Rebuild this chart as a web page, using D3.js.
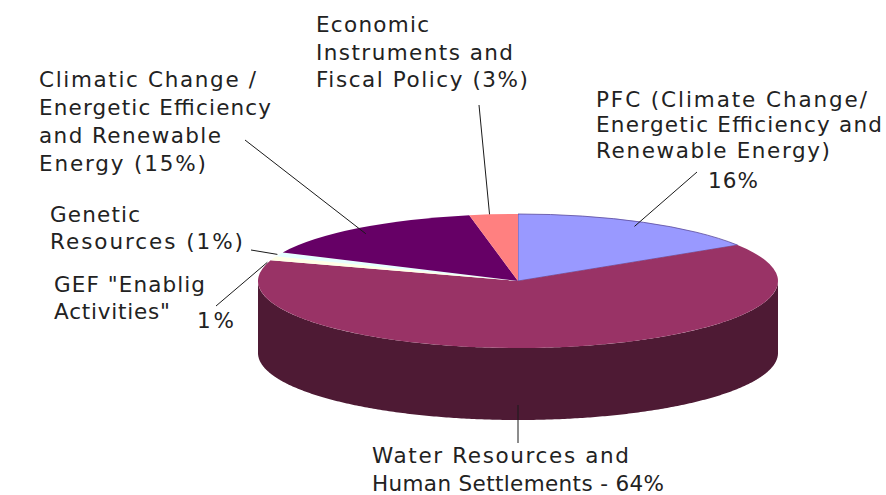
<!DOCTYPE html>
<html>
<head>
<meta charset="utf-8">
<script src="https://cdn.jsdelivr.net/npm/d3@7"></script>
<style>
  html, body { margin: 0; background: #fff; }
  text { font-family: "DejaVu Sans", sans-serif; font-size: 21.5px; fill: #222; }
</style>
</head>
<body>
<svg id="chart" width="886" height="495"></svg>
<script>
// Share of funding per thematic area, clockwise from twelve o'clock.
const categories = [
  "PFC (Climate Change/ Energetic Efficiency and Renewable Energy)",
  "Water Resources and Human Settlements",
  "GEF \"Enablig Activities\"",
  "Genetic Resources",
  "Climatic Change / Energetic Efficiency and Renewable Energy",
  "Economic Instruments and Fiscal Policy"
];
const shares = [16, 64, 1, 1, 15, 3];
const sliceColors = ["#9999ff", "#993366", "#ffffe6", "#e6ffff", "#660066", "#ff8080"];
const sideColors = ["#4c4c80", "#4e1a34", "#80805c", "#668080", "#330033", "#804040"];

// Label lines, each fitted to its own width on the page.
const labelText = [
  "PFC (Climate Change/", "Energetic Efficiency and", "Renewable Energy)", "16%",
  "Water Resources and", "Human Settlements - 64%",
  "GEF \"Enablig", "Activities\"", "1%",
  "Genetic", "Resources (1%)",
  "Climatic Change /", "Energetic Efficiency", "and Renewable", "Energy (15%)",
  "Economic", "Instruments and", "Fiscal Policy (3%)"
];
const labelX = [596, 596, 596, 708, 372, 372, 54, 54, 197, 50, 50, 39, 39, 39, 39, 316, 316, 316];
const labelY = [107, 132, 158, 188, 463, 491, 292, 319, 328, 222, 249, 87, 115, 143, 171, 32, 60, 87];
const labelWidth = [271, 286, 234, 50, 257, 292, 151, 116, 37, 90, 193, 217, 232, 182, 167, 113, 197, 212];

// Leaders run from a point beside the label to a point on the slice.
const leaderFrom = [[697, 172], [518, 443], [216, 306], [251, 250], [245, 140], [479, 105]];
const leaderReach = [0.93, 1, 1, 1, 0.93, 1];
const leaderShift = [[0, 0], [0, 0], [-6, 4], [-2, 0], [-4, 2], [-4, 0]];

// Projection of the tilted disc.
const cx = 518, cy = 281, rx = 260, ry = 67, depth = 72;

const svg = d3.select("#chart");
const pie = d3.pie().sort(null).value(d => d)(shares);
const arc = d3.arc().innerRadius(0).outerRadius(rx);
const squash = `translate(${cx},${cy}) scale(1,${ry / rx})`;

// Point on the flattened disc for a pie angle and a fraction of the radius.
const onDisc = (angle, r) => [
  cx + rx * r * Math.sin(angle),
  cy - ry * r * Math.cos(angle)
];

// Outer wall: only the front half of the rim is visible, swept through the slices there.
const front = svg.append("g");
pie.forEach((s, i) => {
  const a0 = Math.max(s.startAngle, Math.PI / 2);
  const a1 = Math.min(s.endAngle, 3 * Math.PI / 2);
  if (a1 <= a0) return;
  const [x0, y0] = onDisc(a0, 1);
  const [x1, y1] = onDisc(a1, 1);
  const p = d3.path();
  p.moveTo(x0, y0);
  p.lineTo(x0, y0 + depth);
  const steps = d3.range(a0, a1, 0.01).concat(a1);
  steps.forEach(a => { const [x, y] = onDisc(a, 1); p.lineTo(x, y + depth); });
  p.lineTo(x1, y1);
  steps.slice().reverse().forEach(a => { const [x, y] = onDisc(a, 1); p.lineTo(x, y); });
  p.closePath();
  front.append("path").attr("d", p.toString()).attr("fill", sideColors[i]);
});

// Top face.
svg.append("g").attr("transform", squash)
  .selectAll("path").data(pie).join("path")
  .attr("d", arc)
  .attr("fill", (d, i) => sliceColors[i])
  .attr("stroke", (d, i) => i === 0 ? "#5a4a9a" : "none")
  .attr("stroke-width", (d, i) => i === 0 ? 0.8 : 0)
  .attr("vector-effect", "non-scaling-stroke");

// Leader lines, from each label into its slice.
svg.append("g").selectAll("line").data(pie).join("line")
  .each(function (d, i) {
    const wall = i === 1;
    const mid = wall ? Math.PI : (d.startAngle + d.endAngle) / 2;
    const [x, y] = onDisc(mid, leaderReach[i]);
    d3.select(this)
      .attr("x1", leaderFrom[i][0]).attr("y1", leaderFrom[i][1])
      .attr("x2", x + leaderShift[i][0])
      .attr("y2", (wall ? y + depth - 15 : y) + leaderShift[i][1]);
  })
  .attr("stroke", "#1a1a1a").attr("stroke-width", 1);

// Label text.
svg.append("g").selectAll("text").data(labelText).join("text")
  .attr("x", (d, i) => labelX[i])
  .attr("y", (d, i) => labelY[i])
  .attr("textLength", (d, i) => labelWidth[i])
  .attr("lengthAdjust", "spacing")
  .text(d => d);
</script>
</body>
</html>
